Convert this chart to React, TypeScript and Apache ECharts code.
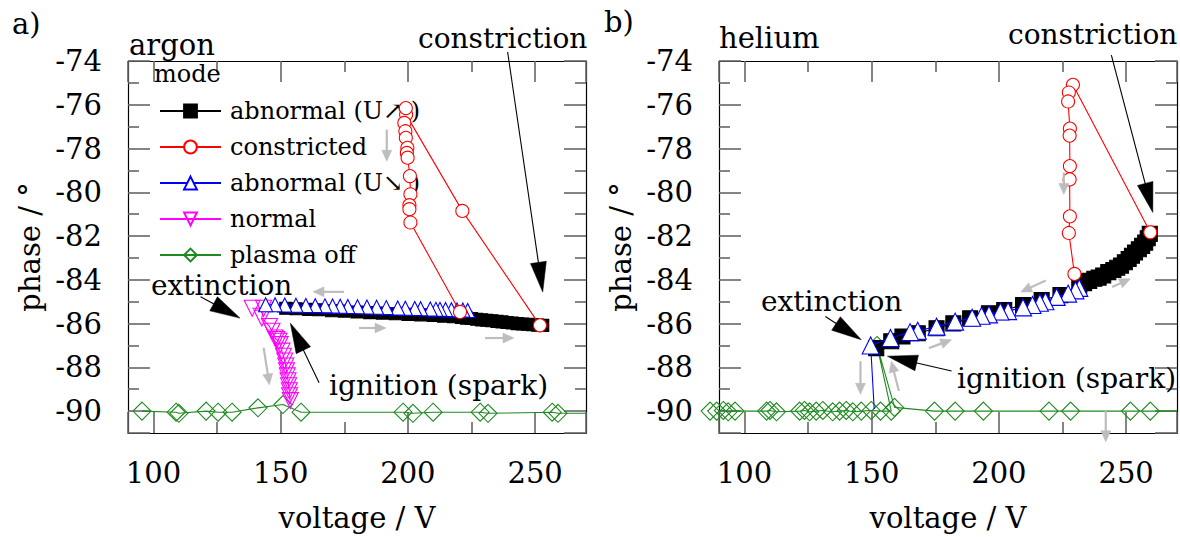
import React, { useEffect, useRef } from "react";
import * as echarts from "echarts";

const FONT = "DejaVu Serif";

// ---------- axis ticks ----------
const voltageTickLabels = [100, 150, 200, 250];
const phaseTickLabels = [-90, -88, -86, -84, -82, -80, -78, -76, -74];

// ---------- legend / modes ----------
const modeNames = ["abnormal (U\u2197 )", "constricted", "abnormal (U\u2198 )", "normal", "plasma off"];
const modeColors = ["#000000", "#ff0000", "#0000ff", "#ff00ff", "#1f8a1f"];

// ---------- a) argon : [voltage V, phase deg] ----------
const argonPlasmaOff: number[][] = [
  [95.5, -90.0], [108.9, -90.05], [110.0, -90.1], [120.7, -90.0], [125.4, -90.05],
  [130.9, -90.05], [141.1, -89.85], [150.9, -89.7], [158.0, -90.05], [198.1, -90.05],
  [202.0, -90.1], [209.9, -90.05], [228.4, -90.05], [231.5, -90.1], [256.7, -90.05],
  [259.0, -90.1],
];
const argonPlasmaOffEnd = [270, -90.1];

const argonAbnormalUp: number[][] = [
  [152, -85.3], [156, -85.32], [161, -85.35], [165, -85.37], [170, -85.41], [175, -85.43],
  [180, -85.47], [185, -85.5], [190, -85.52], [195, -85.55], [200, -85.58], [205, -85.6],
  [210, -85.63], [214, -85.66], [218, -85.69], [221, -85.72], [223, -85.75], [225, -85.77],
  [227, -85.8], [229, -85.83], [231, -85.85], [233, -85.87], [235, -85.9], [237, -85.92],
  [239, -85.95], [241, -85.97], [243, -86.0], [245, -86.02], [247, -86.03], [249, -86.05],
  [251, -86.07], [253, -86.08],
];

const argonNormal: number[][] = [
  [138.8, -85.3], [143.3, -85.3], [142.6, -85.75], [145.6, -86.13], [146.6, -86.35],
  [147.8, -86.66], [148.5, -86.73], [149.3, -86.81], [149.8, -86.96], [150.5, -87.26],
  [151.1, -87.49], [151.6, -87.71], [152.0, -87.94], [152.3, -88.16], [152.6, -88.39],
  [152.9, -88.61], [153.1, -88.84], [153.4, -89.07], [153.5, -89.3], [153.8, -89.52],
];

const argonAbnormalDown: number[][] = [
  [223.5, -85.4], [221.6, -85.38], [219.3, -85.38], [217.1, -85.37], [214.8, -85.36],
  [212.6, -85.35], [211.0, -85.35], [208.8, -85.33], [205.0, -85.32], [202.7, -85.31],
  [199.0, -85.3], [196.0, -85.29], [191.5, -85.27], [187.7, -85.25], [183.9, -85.24],
  [180.2, -85.23], [176.4, -85.22], [173.4, -85.21], [170.4, -85.2], [167.4, -85.19],
  [163.6, -85.18], [159.9, -85.17], [156.0, -85.16], [151.6, -85.15], [147.8, -85.14],
  [144.1, -85.14],
];

const argonConstricted: number[][] = [
  [251.9, -86.08], [221.4, -80.85], [199.3, -76.45], [199.2, -76.15], [198.6, -76.83],
  [199.0, -77.21], [199.2, -77.51], [199.8, -77.97], [199.6, -78.2], [199.9, -78.42],
  [200.8, -79.26], [201.0, -80.09], [200.6, -80.59], [200.6, -80.77], [201.0, -81.38],
  [220.5, -85.47],
];

// ---------- b) helium ----------
const heliumPlasmaOff: number[][] = [
  [86.5, -90.0], [89.1, -90.0], [91.7, -89.97], [93.6, -90.03], [96.3, -90.0],
  [108.7, -90.0], [110.0, -89.97], [112.6, -90.03], [121.7, -90.0], [123.6, -89.97],
  [125.6, -90.03], [128.2, -90.0], [130.8, -89.97], [134.7, -90.03], [137.4, -90.0],
  [140.0, -89.97], [142.6, -90.03], [145.9, -90.0], [149.8, -89.97], [153.5, -90.0],
  [157.7, -90.0], [152.1, -87.0], [159.0, -89.83], [174.7, -90.0], [182.8, -90.0],
  [193.9, -90.0], [219.7, -90.0], [228.2, -90.0], [251.7, -90.0], [259.5, -90.0],
];
const heliumPlasmaOffEnd = [270, -90.0];

const heliumAbnormalUp: number[][] = [
  [151.8, -87.12], [157.7, -86.81], [162.1, -86.59], [168.1, -86.44], [175.5, -86.21],
  [182.1, -85.99], [188.7, -85.76], [196.1, -85.53], [202.1, -85.38], [209.5, -85.15],
  [216.8, -84.93], [224.2, -84.7], [231.6, -84.25], [233.5, -84.15], [235.5, -84.05],
  [237.5, -83.95], [239.2, -83.9], [241.0, -83.8], [243.0, -83.65], [245.0, -83.55],
  [246.5, -83.45], [248.0, -83.35], [249.5, -83.2], [251.0, -83.05], [252.3, -82.9],
  [253.5, -82.75], [255.0, -82.6], [256.3, -82.45], [257.5, -82.3], [258.5, -82.1],
  [259.3, -81.9],
];

const heliumAbnormalDown: number[][] = [
  [231.6, -84.37], [230.1, -84.48], [227.2, -84.63], [222.7, -84.78], [218.3, -84.98],
  [216.1, -85.05], [213.2, -85.15], [209.5, -85.26], [203.6, -85.43], [200.6, -85.45],
  [196.1, -85.58], [193.2, -85.64], [189.5, -85.73], [182.8, -85.91], [175.5, -86.14],
  [168.1, -86.33], [165.1, -86.39], [157.4, -86.66], [149.6, -87.0],
];
const heliumAbnormalDownEnd = [151.0, -89.9];

const heliumConstricted: number[][] = [
  [259.5, -81.83], [229.1, -75.09], [227.5, -75.44], [227.2, -75.85], [227.9, -77.09],
  [227.8, -77.41], [227.9, -78.8], [227.8, -79.41], [227.9, -81.1], [227.5, -81.86],
  [229.7, -83.73],
];

// ---------- annotations (data coordinates) ----------
const blackArrows = [
  { grid: 0, from: [239.2, -73.59], to: [253.0, -84.56] },
  { grid: 0, from: [118.5, -84.77], to: [134.0, -85.75] },
  { grid: 0, from: [165.1, -88.7], to: [153.8, -85.98] },
  { grid: 1, from: [244.2, -73.73], to: [260.5, -80.92] },
  { grid: 1, from: [131.8, -85.68], to: [145.9, -86.74] },
  { grid: 1, from: [181.4, -88.17], to: [156.2, -87.49] },
];
const grayArrows = [
  { grid: 0, from: [191.7, -77.14], to: [191.7, -78.58] },
  { grid: 0, from: [174.9, -84.55], to: [162.7, -84.55] },
  { grid: 0, from: [180.8, -86.2], to: [191.4, -86.2] },
  { grid: 0, from: [230.3, -86.66], to: [241.7, -86.66] },
  { grid: 0, from: [143.3, -87.1], to: [145.6, -88.8] },
  { grid: 1, from: [225.5, -79.1], to: [225.5, -80.1] },
  { grid: 1, from: [218.4, -84.03], to: [208.6, -84.56] },
  { grid: 1, from: [244.5, -84.33], to: [251.7, -83.95] },
  { grid: 1, from: [172.5, -87.12], to: [181.4, -86.74] },
  { grid: 1, from: [145.6, -87.72], to: [145.6, -89.23] },
  { grid: 1, from: [160.7, -89.08], to: [157.7, -87.72] },
  { grid: 1, from: [242.0, -89.98], to: [242.0, -91.4] },
];

const texts = [
  { text: "a)", x: 12, y: 24, size: 29 },
  { text: "argon", x: 129, y: 45, size: 29 },
  { text: "mode", x: 154, y: 74, size: 24 },
  { text: "constriction", x: 418, y: 38, size: 28 },
  { text: "extinction", x: 151, y: 285, size: 28 },
  { text: "ignition (spark)", x: 329, y: 385, size: 28 },
  { text: "b)", x: 604, y: 22, size: 29 },
  { text: "helium", x: 719, y: 38, size: 29 },
  { text: "constriction", x: 1008, y: 34, size: 28 },
  { text: "extinction", x: 761, y: 301, size: 28 },
  { text: "ignition (spark)", x: 957, y: 378, size: 28 },
];

const TICK = { color: "#666", width: 1.6 };

function xAxes(gridIndex: number) {
  const base = (position: string, labels: boolean) => ({
    type: "value",
    gridIndex,
    position,
    min: 90,
    max: 270,
    splitNumber: 4,
    axisLine: { show: true, onZero: false, lineStyle: { color: "#000", width: 1.2 } },
    axisTick: { show: true, inside: true, length: 21, lineStyle: TICK },
    minorTick: { show: true, splitNumber: 2, length: 11, lineStyle: TICK },
    splitLine: { show: false },
    minorSplitLine: { show: false },
    axisLabel: {
      show: labels,
      margin: 25,
      fontSize: 29,
      fontFamily: FONT,
      color: "#000",
      formatter: (v: number) => (voltageTickLabels.includes(v) ? String(v) : ""),
    },
    name: labels ? "voltage / V" : "",
    nameLocation: "middle",
    nameGap: 70,
    nameTextStyle: { fontSize: 29, fontFamily: FONT, color: "#000" },
  });
  return [base("bottom", true), base("top", false)];
}

function yAxes(gridIndex: number) {
  const base = (position: string, labels: boolean) => ({
    type: "value",
    gridIndex,
    position,
    min: -91,
    max: -74,
    splitNumber: 8,
    axisLine: { show: true, onZero: false, lineStyle: { color: "#000", width: 1.2 } },
    axisTick: { show: true, inside: true, length: 22, lineStyle: TICK },
    minorTick: { show: true, splitNumber: 2, length: 11, lineStyle: TICK },
    splitLine: { show: false },
    minorSplitLine: { show: false },
    axisLabel: {
      show: labels,
      margin: 26,
      fontSize: 29,
      fontFamily: FONT,
      color: "#000",
      formatter: (v: number) => (phaseTickLabels.includes(Math.round(v)) ? String(Math.round(v)) : ""),
    },
    name: labels ? "phase / \u00b0" : "",
    nameLocation: "middle",
    nameGap: 84,
    nameTextStyle: { fontSize: 29, fontFamily: FONT, color: "#000" },
  });
  return [base("left", true), base("right", false)];
}

function lineSeries(
  mode: number,
  grid: number,
  data: any[],
  symbol: string,
  size: number,
  fill: string,
  z: number,
  extra: any = {}
) {
  return {
    type: "line",
    name: modeNames[mode],
    xAxisIndex: grid * 2,
    yAxisIndex: grid * 2,
    data,
    symbol,
    symbolSize: size,
    showSymbol: true,
    showAllSymbol: true,
    itemStyle: { color: fill, borderColor: modeColors[mode], borderWidth: 1.1 },
    lineStyle: { color: modeColors[mode], width: 1.1 },
    emphasis: { disabled: true },
    z,
    ...extra,
  };
}

const noSym = (p: number[]) => ({ value: p, symbol: "none" });
const CLEAR = "rgba(0,0,0,0)";

function buildOption() {
  return {
    animation: false,
    textStyle: { fontFamily: FONT },
    grid: [
      { left: 128, top: 61, width: 458, height: 374 },
      { left: 719, top: 61, width: 458, height: 374 },
    ],
    xAxis: [...xAxes(0), ...xAxes(1)],
    yAxis: [...yAxes(0), ...yAxes(1)],
    legend: {
      data: modeNames,
      left: 154,
      top: 94,
      orient: "vertical",
      itemGap: 12,
      itemWidth: 61,
      itemHeight: 16,
      selectedMode: false,
      textStyle: { fontSize: 24, fontFamily: FONT, color: "#000", padding: [0, 0, 0, 4] },
    },
    series: [
      // argon
      lineSeries(4, 0, [...argonPlasmaOff, noSym(argonPlasmaOffEnd)], "diamond", 18, CLEAR, 2),
      lineSeries(0, 0, argonAbnormalUp, "rect", 12, modeColors[0], 3),
      lineSeries(3, 0, argonNormal, "triangle", 16, CLEAR, 4, { symbolRotate: 180 }),
      lineSeries(2, 0, argonAbnormalDown, "triangle", 14, "#fff", 5),
      lineSeries(1, 0, argonConstricted, "circle", 13, "#fff", 6),
      // helium
      lineSeries(4, 1, [...heliumPlasmaOff, noSym(heliumPlasmaOffEnd)], "diamond", 18, CLEAR, 2, { clip: false }),
      lineSeries(0, 1, heliumAbnormalUp, "rect", 15, modeColors[0], 3),
      lineSeries(2, 1, [...heliumAbnormalDown, noSym(heliumAbnormalDownEnd)], "triangle", 17, "#fff", 5),
      lineSeries(1, 1, heliumConstricted, "circle", 13, "#fff", 6),
    ],
  };
}

function arrowEls(p0: number[], p1: number[], color: string, w: number, headL: number, headW: number) {
  const dx = p1[0] - p0[0];
  const dy = p1[1] - p0[1];
  const len = Math.hypot(dx, dy) || 1;
  const ux = dx / len;
  const uy = dy / len;
  const bx = p1[0] - ux * headL;
  const by = p1[1] - uy * headL;
  const nx = -uy;
  const ny = ux;
  return [
    { type: "line", z: 100, silent: true, shape: { x1: p0[0], y1: p0[1], x2: bx + ux * 2, y2: by + uy * 2 }, style: { stroke: color, lineWidth: w } },
    {
      type: "polygon",
      z: 100,
      silent: true,
      shape: { points: [[p1[0], p1[1]], [bx + nx * headW, by + ny * headW], [bx - nx * headW, by - ny * headW]] },
      style: { fill: color, stroke: color, lineWidth: 0.5 },
    },
  ];
}

export default function App() {
  const ref = useRef<HTMLDivElement>(null);
  useEffect(() => {
    document.body.style.margin = "0";
    const chart = echarts.init(ref.current!, null, { renderer: "svg" });
    chart.setOption(buildOption() as any);
    const toPx = (g: number, p: number[]) =>
      chart.convertToPixel({ xAxisIndex: g * 2, yAxisIndex: g * 2 } as any, p) as number[];
    const els: any[] = [];
    blackArrows.forEach((a) => els.push(...arrowEls(toPx(a.grid, a.from), toPx(a.grid, a.to), "#000", 1.1, 30, 8)));
    grayArrows.forEach((a) => els.push(...arrowEls(toPx(a.grid, a.from), toPx(a.grid, a.to), "#bdbdbd", 2.2, 11, 5)));
    texts.forEach((t) =>
      els.push({
        type: "text",
        z: 101,
        silent: true,
        x: t.x,
        y: t.y,
        style: { text: t.text, fontSize: t.size, fontFamily: FONT, fill: "#000", align: "left", verticalAlign: "middle" },
      })
    );
    chart.setOption({ graphic: { elements: els } } as any);
    return () => chart.dispose();
  }, []);
  return <div ref={ref} style={{ width: 1180, height: 537 }} />;
}
